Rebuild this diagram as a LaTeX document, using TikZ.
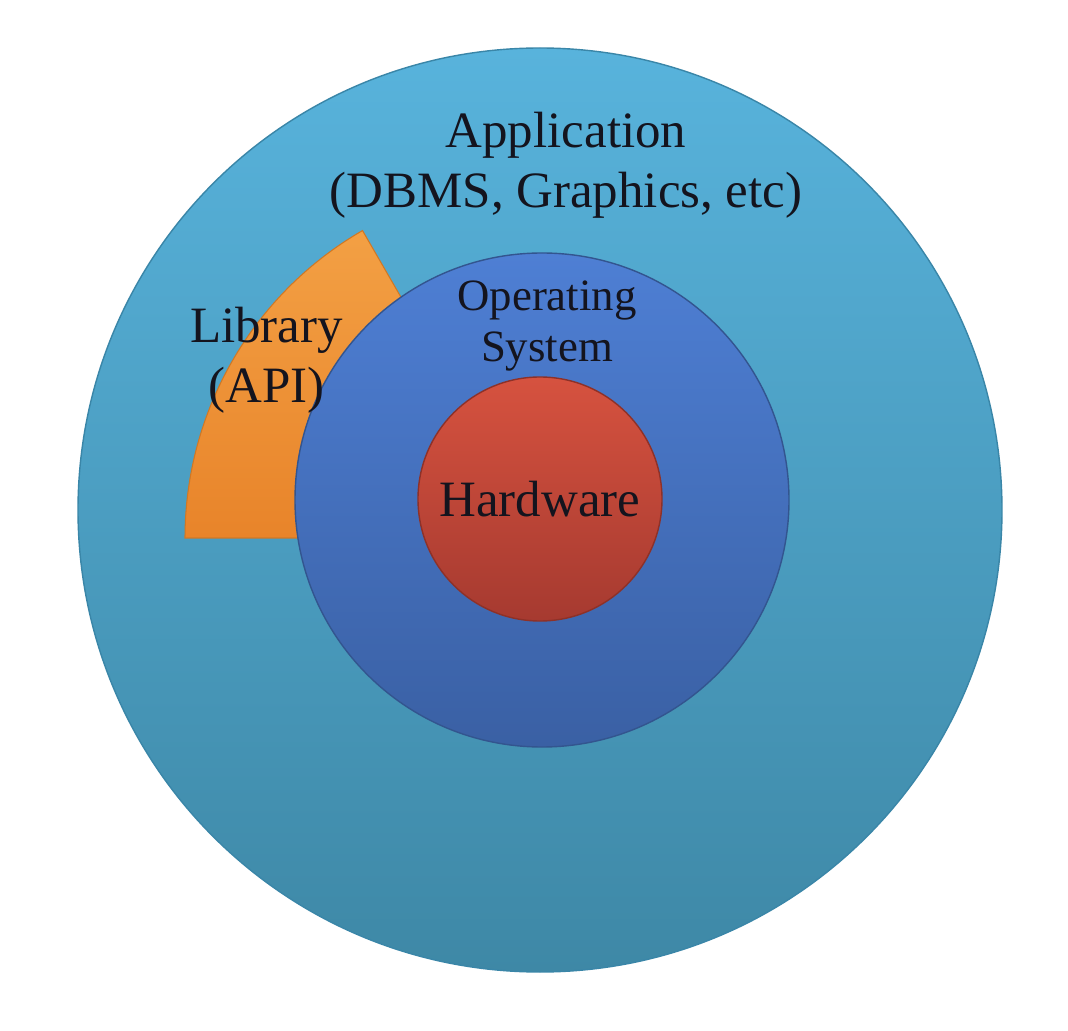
\documentclass[tikz,border=0pt]{standalone}
\usepackage{fontspec}
\setmainfont{Liberation Serif}
\usepackage{tikz}
\usetikzlibrary{positioning,calc}
\definecolor{AppTop}{HTML}{58B3DC}
\definecolor{AppBot}{HTML}{3E88A6}
\definecolor{AppRim}{HTML}{3A86A8}
\definecolor{OsTop}{HTML}{4E7FD4}
\definecolor{OsBot}{HTML}{3A60A4}
\definecolor{OsRim}{HTML}{33558F}
\definecolor{HwTop}{HTML}{D6523F}
\definecolor{HwBot}{HTML}{A63A30}
\definecolor{HwRim}{HTML}{8E3128}
\definecolor{LibTop}{HTML}{F3A044}
\definecolor{LibBot}{HTML}{E8842A}
\definecolor{LibRim}{HTML}{D07824}
\definecolor{TextDark}{HTML}{14141E}
\tikzset{
  ring/.style={circle, inner sep=0pt, line width=0.8pt},
  apparea/.style={ring, draw=AppRim, top color=AppTop, bottom color=AppBot, minimum size=18.48cm},
  osarea/.style={ring, draw=OsRim, top color=OsTop, bottom color=OsBot, minimum size=9.88cm},
  hwarea/.style={ring, draw=HwRim, top color=HwTop, bottom color=HwBot, minimum size=4.88cm},
  libarea/.style={draw=LibRim, line width=0.6pt, top color=LibTop, bottom color=LibBot},
  layertext/.style={align=center, text=TextDark, font=\fontsize{29}{34}\selectfont},
  ostext/.style={align=center, text=TextDark, font=\fontsize{25.5}{29}\selectfont},
}
\begin{document}
\begin{tikzpicture}
    \useasboundingbox[fill=white] (0,0) rectangle (21.36,20.6);
    % layers, outside in
    \node[apparea] (app) at (10.8,10.4) {};
    \coordinate (libc) at (10.8,9.84);
    \path[libarea] (libc) -- ++(180:7.1) arc (180:120:7.1) -- cycle;
    \node[osarea] (os) at (10.84,10.6) {};
    \node[hwarea] (hw) at (10.8,10.62) {};
    % labels
    \node[layertext] (applbl) at (11.32,17.3) {Application\\(DBMS, Graphics, etc)};
    \node[layertext] (liblbl) at (5.33,13.4) {Library\\(API)};
    \node[ostext] (oslbl) at (10.94,14.08) {Operating\\System};
    \node[layertext] (hwlbl) at (hw) {Hardware};
\end{tikzpicture}
\end{document}
